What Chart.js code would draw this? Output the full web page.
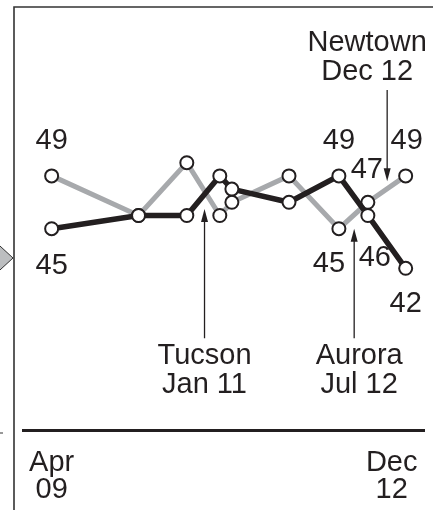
<!DOCTYPE html>
<html>
<head>
<meta charset="utf-8">
<script src="https://cdn.jsdelivr.net/npm/chart.js@4.4.1/dist/chart.umd.min.js"></script>
<style>
  html, body { margin: 0; padding: 0; background: #fff; }
  #wrap { width: 433px; height: 510px; position: relative; }
</style>
</head>
<body>
<div id="wrap"><canvas id="gunChart"></canvas></div>
<script>
// months since Apr 2009
var months = [0, 10.8, 16.8, 20.9, 22.4, 29.5, 35.7, 39.3, 44];
var controlGuns = [49, 46, 50, 46, 47, 49, 45, 47, 49];
var gunRights = [45, 46, 46, 49, 48, 47, 49, 46, 42];

var tickMonths = [0, 44];
var tickLabels = [['Apr', '09'], ['Dec', '12']];

var eventNames = ['Tucson', 'Aurora', 'Newtown'];
var eventDates = ['Jan 11', 'Jul 12', 'Dec 12'];
var eventMonths = [19.0, 37.6, 41.7];

var FONT = '29px "Liberation Sans", Arial, sans-serif';
var INK = '#231f20';

function toXY(xs, ys) {
    return xs.map(function(x, i) { return { x: x, y: ys[i] }; });
}

// which points get a number, and where it sits
var valueLabels = [
    { ds: 0, i: 0, dx: 0, dy: -35 },
    { ds: 1, i: 0, dx: 0, dy: 37 },
    { ds: 1, i: 6, dx: 0, dy: -35 },
    { ds: 0, i: 6, dx: -10, dy: 35 },
    { ds: 0, i: 7, dx: -1, dy: -32 },
    { ds: 1, i: 7, dx: 7, dy: 43 },
    { ds: 0, i: 8, dx: 1, dy: -35 },
    { ds: 1, i: 8, dx: 0, dy: 36 }
];

function arrow(ctx, x, y0, y1) {
    var dir = y1 < y0 ? 1 : -1;
    ctx.beginPath();
    ctx.moveTo(x, y0);
    ctx.lineTo(x, y1 + dir * 10);
    ctx.lineWidth = 1.3;
    ctx.strokeStyle = INK;
    ctx.stroke();
    ctx.beginPath();
    ctx.moveTo(x, y1);
    ctx.lineTo(x - 3.5, y1 + dir * 13);
    ctx.lineTo(x + 3.5, y1 + dir * 13);
    ctx.closePath();
    ctx.fillStyle = INK;
    ctx.fill();
}

var decor = {
    id: 'decor',
    beforeDraw: function(chart) {
        var ctx = chart.ctx;
        ctx.save();
        // frame
        ctx.strokeStyle = '#333';
        ctx.lineWidth = 1.6;
        ctx.beginPath();
        ctx.moveTo(14, 510);
        ctx.lineTo(14, 7);
        ctx.lineTo(433, 7);
        ctx.stroke();
        // grey pointer on the left edge
        ctx.beginPath();
        ctx.moveTo(-12, 235);
        ctx.lineTo(13, 258);
        ctx.lineTo(-12, 281);
        ctx.closePath();
        ctx.fillStyle = '#bcbec0';
        ctx.fill();
        ctx.lineWidth = 1;
        ctx.stroke();
        ctx.beginPath();
        ctx.moveTo(0, 433);
        ctx.lineTo(3, 433);
        ctx.stroke();
        ctx.restore();
    },
    afterDatasetsDraw: function(chart) {
        var ctx = chart.ctx;
        var xs = chart.scales.x;
        var ys = chart.scales.y;
        ctx.save();
        ctx.font = FONT;
        ctx.fillStyle = INK;
        ctx.textAlign = 'center';
        ctx.textBaseline = 'middle';

        valueLabels.forEach(function(l) {
            var pt = chart.getDatasetMeta(l.ds).data[l.i];
            var v = chart.data.datasets[l.ds].data[l.i].y;
            ctx.fillText(String(v), pt.x + l.dx, pt.y + l.dy);
        });

        // event arrows
        var tx = xs.getPixelForValue(eventMonths[0]);
        arrow(ctx, tx, ys.getPixelForValue(36.7), ys.getPixelForValue(46.5));
        ctx.fillText(eventNames[0], tx, 356);
        ctx.fillText(eventDates[0], tx, 385);

        var ax = xs.getPixelForValue(eventMonths[1]);
        arrow(ctx, ax, ys.getPixelForValue(36.7), ys.getPixelForValue(45));
        ctx.fillText(eventNames[1], ax + 5, 356);
        ctx.fillText(eventDates[1], ax + 5, 385);

        var nx = xs.getPixelForValue(eventMonths[2]);
        arrow(ctx, nx, ys.getPixelForValue(55.5), ys.getPixelForValue(48.6));
        ctx.fillText(eventNames[2], nx - 20, 43);
        ctx.fillText(eventDates[2], nx - 20, 72);

        // x tick labels
        var shift = [0, -14];
        tickMonths.forEach(function(m, i) {
            var px = xs.getPixelForValue(m) + shift[i];
            ctx.fillText(tickLabels[i][0], px, 463);
            ctx.fillText(tickLabels[i][1], px, 490);
        });
        ctx.restore();
    }
};

var ctx = document.getElementById('gunChart').getContext('2d');
var gunChart = new Chart(ctx, {
    type: 'line',
    data: {
        datasets: [{
            label: 'Control gun ownership',
            data: toXY(months, controlGuns),
            borderColor: '#a7a9ac',
            borderWidth: 5,
            pointRadius: 6.5,
            pointBorderWidth: 2,
            pointBorderColor: INK,
            pointBackgroundColor: '#fff',
            tension: 0,
            order: 2
        }, {
            label: 'Protect gun rights',
            data: toXY(months, gunRights),
            borderColor: INK,
            borderWidth: 5.5,
            pointRadius: 6.5,
            pointBorderWidth: 2,
            pointBorderColor: INK,
            pointBackgroundColor: '#fff',
            tension: 0,
            order: 1
        }]
    },
    options: {
        responsive: true,
        maintainAspectRatio: false,
        animation: false,
        devicePixelRatio: 1,
        layout: {
            padding: { left: 23, right: 4, top: 7, bottom: 80 }
        },
        scales: {
            x: {
                type: 'linear',
                min: -3.56,
                max: 46.34,
                grid: { display: false, drawTicks: false },
                border: { display: true, color: INK, width: 3 },
                ticks: { display: false }
            },
            y: {
                display: false,
                min: 29.75,
                max: 61.68
            }
        },
        plugins: {
            legend: { display: false },
            tooltip: { enabled: false }
        }
    },
    plugins: [decor]
});
</script>
</body>
</html>
